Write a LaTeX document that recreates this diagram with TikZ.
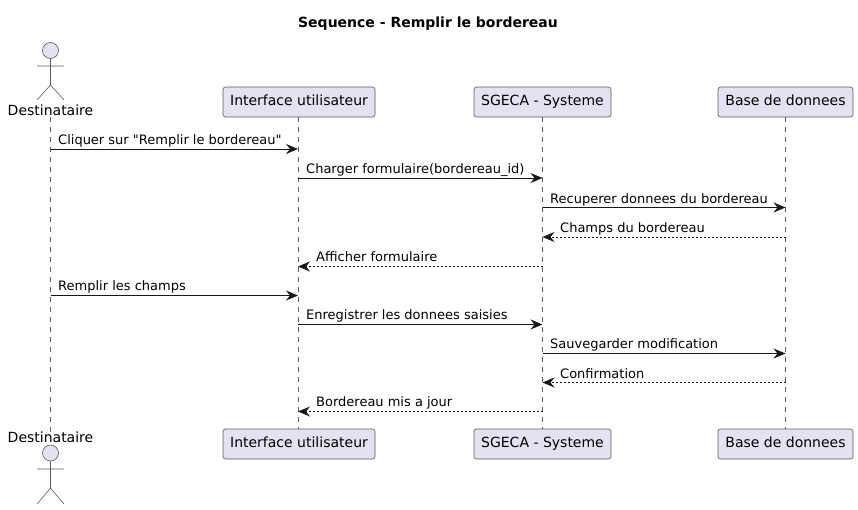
\documentclass[tikz,border=0pt]{standalone}
\usepackage{fontspec}
\setmainfont{DejaVu Sans}
\newfontfamily\msgfont{DejaVu Sans}
\usetikzlibrary{arrows.meta}
\definecolor{partfill}{HTML}{E2E2F0}
\definecolor{partline}{HTML}{5A5A5A}
\definecolor{msgline}{HTML}{181818}
\tikzset{
  partbox/.style={draw=partline,fill=partfill,line width=0.6pt,rounded corners=2.5pt,inner sep=0pt,
    text height=10.5pt,text depth=3pt,minimum height=30pt,font=\fontsize{14}{16}\selectfont},
  actortext/.style={inner sep=0pt,text height=10.5pt,text depth=1pt,font=\fontsize{14}{16}\selectfont},
  actorline/.style={draw=partline,line width=0.6pt},
  lifeline/.style={draw=partline,line width=0.6pt,dash pattern=on 5pt off 5pt},
  msg/.style={draw=msgline,line width=1pt,-{Stealth[length=12pt,width=10pt,inset=4pt]}},
  reply/.style={msg,dash pattern=on 2pt off 2pt,-{Stealth[length=12pt,width=10pt,inset=4pt]}},
  msgtext/.style={anchor=base west,inner sep=0pt,font=\msgfont\fontsize{13}{15}\selectfont}
}
\begin{document}
\begin{tikzpicture}[x=1pt,y=-1pt]
\useasboundingbox (0,0) rectangle (858,509);
\node [inner sep=0pt,font=\fontsize{14}{16}\selectfont\bfseries] (title) at (428,24) {Sequence - Remplir le bordereau};
\node [actortext] (destTop) at (50.5,111) {Destinataire};
\node [partbox,minimum width=152pt] (ifaceTop) at (299,102) {Interface utilisateur};
\node [partbox,minimum width=137pt] (sgecaTop) at (542.5,102) {SGECA - Systeme};
\node [partbox,minimum width=135pt] (baseTop) at (785.5,102) {Base de donnees};
\node [actortext] (destBot) at (50.5,438) {Destinataire};
\node [partbox,minimum width=152pt] (ifaceBot) at (299,444) {Interface utilisateur};
\node [partbox,minimum width=137pt] (sgecaBot) at (542.5,444) {SGECA - Systeme};
\node [partbox,minimum width=135pt] (baseBot) at (785.5,444) {Base de donnees};
\coordinate (ifaceAxis) at (298,0);
\draw [lifeline] (destTop) -- (destBot);
\draw [lifeline] (ifaceAxis |- ifaceTop.south) -- (ifaceAxis |- ifaceBot.north);
\draw [lifeline] (sgecaTop) -- (sgecaBot);
\draw [lifeline] (baseTop) -- (baseBot);
\draw [actorline,fill=partfill] (50.5,50.5) circle (8);
\draw [actorline] (50.5,58.5) -- (50.5,85) (37,66) -- (64,66) (37,100) -- (50.5,85) -- (64,100);
\draw [actorline,fill=partfill] (50.5,453) circle (8);
\draw [actorline] (50.5,461) -- (50.5,488) (37,469) -- (64,469) (37,504) -- (50.5,488) -- (64,504);
\draw [msg] (destTop |- 0,149) -- (ifaceAxis |- 0,149);
\node [msgtext] (m1) at (58,144.5) {Cliquer sur "Remplir le bordereau"};
\draw [msg] (ifaceAxis |- 0,178) -- (sgecaTop |- 0,178);
\node [msgtext] (m2) at (306,173.5) {Charger formulaire(bordereau\_id)};
\draw [msg] (sgecaTop |- 0,207.5) -- (baseTop |- 0,207.5);
\node [msgtext] (m3) at (550,203) {Recuperer donnees du bordereau};
\draw [reply] (baseTop |- 0,237) -- (sgecaTop |- 0,237);
\node [msgtext] (m4) at (560,232.5) {Champs du bordereau};
\draw [reply] (sgecaTop |- 0,266.5) -- (ifaceAxis |- 0,266.5);
\node [msgtext] (m5) at (316,261.5) {Afficher formulaire};
\draw [msg] (destTop |- 0,295.5) -- (ifaceAxis |- 0,295.5);
\node [msgtext] (m6) at (58,290.5) {Remplir les champs};
\draw [msg] (ifaceAxis |- 0,324.5) -- (sgecaTop |- 0,324.5);
\node [msgtext] (m7) at (306,319.5) {Enregistrer les donnees saisies};
\draw [msg] (sgecaTop |- 0,353.5) -- (baseTop |- 0,353.5);
\node [msgtext] (m8) at (550,348.5) {Sauvegarder modification};
\draw [reply] (baseTop |- 0,382.5) -- (sgecaTop |- 0,382.5);
\node [msgtext] (m9) at (560,378) {Confirmation};
\draw [reply] (sgecaTop |- 0,411.5) -- (ifaceAxis |- 0,411.5);
\node [msgtext] (m10) at (316,406.5) {Bordereau mis a jour};
\end{tikzpicture}
\end{document}
